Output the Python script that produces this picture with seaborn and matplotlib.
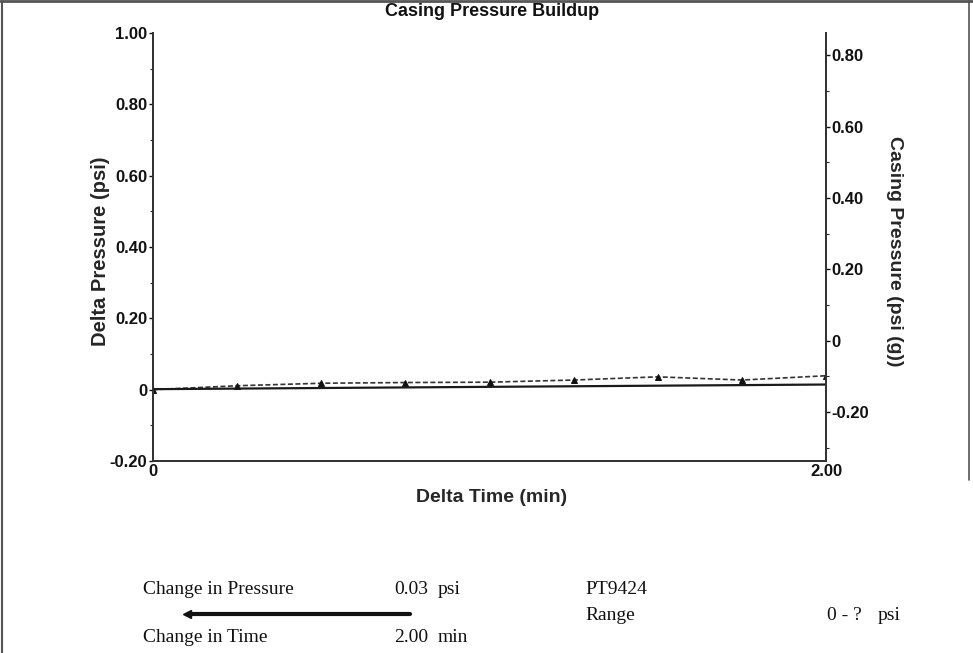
import matplotlib
matplotlib.use('Agg')
import matplotlib.pyplot as plt
from matplotlib.lines import Line2D
from matplotlib.ticker import MultipleLocator
import seaborn as sns
import pandas as pd

# data
delta_time = [0.0, 0.25, 0.5, 0.75, 1.0, 1.25, 1.5, 1.75, 2.0]
delta_pressure = [0.0, 0.011, 0.018, 0.020, 0.021, 0.027, 0.036, 0.027, 0.039]
casing_time = [0.0, 2.0]
casing_pressure = [-0.136, -0.123]

left_ticks = [1.0, 0.8, 0.6, 0.4, 0.2, 0.0, -0.2]
left_labels = ['1.00', '0.80', '0.60', '0.40', '0.20', '0', '-0.20']
right_ticks = [0.8, 0.6, 0.4, 0.2, 0.0, -0.2]
right_labels = ['0.80', '0.60', '0.40', '0.20', '0', '-0.20']
x_ticks = [0.0, 2.0]
x_labels = ['0', '2.00']

sns.set_style('ticks')
plt.rcParams['font.family'] = ['Liberation Sans', 'DejaVu Sans']

fig = plt.figure(figsize=(9.73, 6.53), dpi=100)
ax = fig.add_axes([153 / 973, 1 - 461 / 653, (826 - 153) / 973, (461 - 33) / 653])
ax2 = ax.twinx()

dp = pd.DataFrame({'t': delta_time, 'p': delta_pressure})
cp = pd.DataFrame({'t': casing_time, 'p': casing_pressure})

sns.lineplot(data=dp, x='t', y='p', ax=ax, color='#333333', linestyle=(0, (3, 1.5)),
             linewidth=1.2, marker='^', markersize=4.5, markeredgecolor='#111111',
             markerfacecolor='#111111')
sns.lineplot(data=cp, x='t', y='p', ax=ax2, color='#1a1a1a', linewidth=1.6)

ax.set_xlim(0, 2.0)
ax.set_ylim(-0.2, 1.0)
offset = 0.1374
ax2.set_ylim(-0.2 - offset, 1.0 - offset)

ax.set_yticks(left_ticks)
ax.set_yticklabels(left_labels)
ax2.set_yticks(right_ticks)
ax2.set_yticklabels(right_labels)
ax.set_xticks(x_ticks)
ax.set_xticklabels(x_labels)
ax.yaxis.set_minor_locator(MultipleLocator(0.1))
ax2.yaxis.set_minor_locator(MultipleLocator(0.1))

for a in (ax, ax2):
    a.spines['top'].set_visible(False)
    for s in a.spines.values():
        s.set_linewidth(1.3)
        s.set_color('#333333')
    a.tick_params(axis='both', which='major', length=3, width=1, pad=1,
                  labelsize=12, colors='#111111')
    a.tick_params(axis='y', which='minor', length=2, width=0.8)
    for lab in a.get_xticklabels() + a.get_yticklabels():
        lab.set_fontweight('bold')
ax.tick_params(axis='x', length=0, pad=2)

ax.set_xlabel('Delta Time (min)', fontsize=14, fontweight='bold', va='center')
ax.xaxis.set_label_coords(0.503, (461 - 497) / 428)
ax.set_ylabel('Delta Pressure (psi)', fontsize=14.5, fontweight='bold', va='center')
ax.yaxis.set_label_coords((100 - 153) / 673, 0.49)
ax2.set_ylabel('Casing Pressure (psi (g))', fontsize=14, fontweight='bold',
               rotation=-90, va='center')
ax2.yaxis.set_label_coords((895 - 153) / 673, 0.49)

fig.text(492 / 973, 1 - 11 / 653, 'Casing Pressure Buildup', ha='center', va='center',
         fontsize=13, fontweight='bold', color='#111111')

# footer text block
serif = ['Liberation Serif', 'DejaVu Serif']
def ftext(x, y, s, ha='left'):
    fig.text(x / 973, 1 - y / 653, s, ha=ha, va='center', fontsize=14,
             family=serif, color='#111111')

ftext(143, 590, 'Change in Pressure')
ftext(428, 590, '0.03', ha='right')
ftext(438, 590, 'psi')
ftext(143, 637, 'Change in Time')
ftext(428, 637, '2.00', ha='right')
ftext(438, 637, 'min')
ftext(585, 589, 'PT9424')
ftext(585, 615, 'Range')
ftext(862, 615, '0 - ?', ha='right')
ftext(878, 615, 'psi')

fig.add_artist(Line2D([192 / 973, 410 / 973], [1 - 614 / 653] * 2,
                      transform=fig.transFigure, color='#111111', linewidth=3))
fig.add_artist(Line2D([187 / 973], [1 - 614 / 653], transform=fig.transFigure,
                      marker='<', markersize=6, color='#111111'))

# page frame
fig.add_artist(Line2D([2 / 973, 2 / 973], [0, 1], transform=fig.transFigure,
                      color='#555555', linewidth=1.5))
fig.add_artist(Line2D([0, 1], [1 - 1 / 653] * 2, transform=fig.transFigure,
                      color='#555555', linewidth=2))
fig.add_artist(Line2D([969 / 973] * 2, [1 - 480 / 653, 1], transform=fig.transFigure,
                      color='#555555', linewidth=1.2))

fig.savefig('out.png', dpi=100)
